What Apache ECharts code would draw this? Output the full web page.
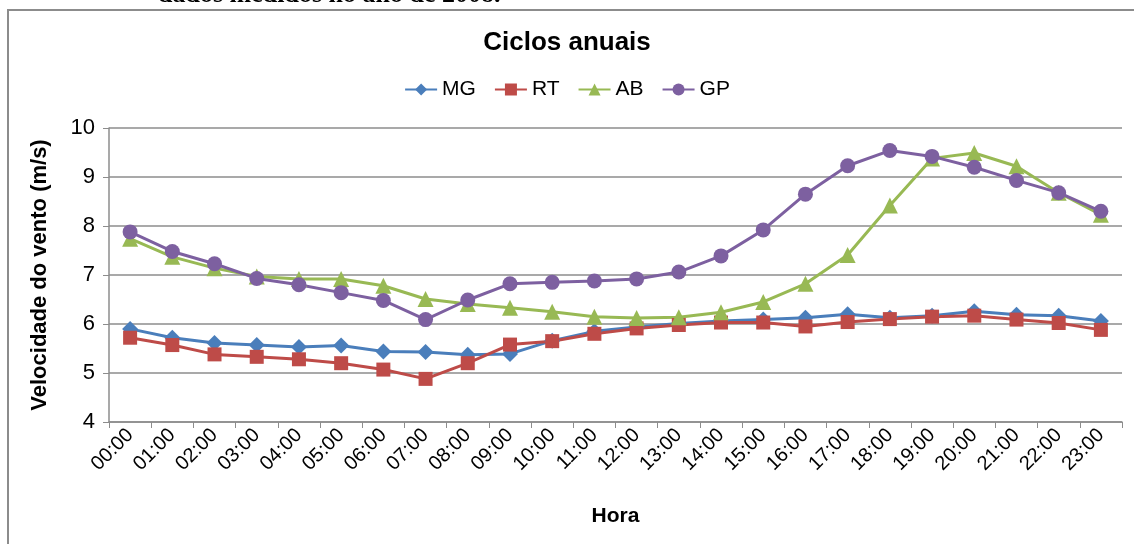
<!DOCTYPE html>
<html>
<head>
<meta charset="utf-8">
<script src="https://cdn.jsdelivr.net/npm/echarts@6/dist/echarts.min.js"></script>
<style>
  html, body { margin: 0; padding: 0; background: #fff; }
  #main { width: 1134px; height: 544px; }
</style>
</head>
<body>
<div id="main"></div>
<script>
// horas do dia
var horas = ['00:00', '01:00', '02:00', '03:00', '04:00', '05:00', '06:00', '07:00',
  '08:00', '09:00', '10:00', '11:00', '12:00', '13:00', '14:00', '15:00',
  '16:00', '17:00', '18:00', '19:00', '20:00', '21:00', '22:00', '23:00']

// velocidade media do vento (m/s) por estacao
var mg = [5.90, 5.72, 5.61, 5.57, 5.53, 5.56, 5.44, 5.43, 5.37, 5.39, 5.66, 5.85,
  5.94, 6.01, 6.06, 6.09, 6.13, 6.20, 6.13, 6.17, 6.26, 6.19, 6.17, 6.06]
var rt = [5.72, 5.57, 5.38, 5.33, 5.28, 5.20, 5.07, 4.88, 5.20, 5.58, 5.65, 5.80,
  5.91, 5.98, 6.03, 6.03, 5.95, 6.04, 6.10, 6.15, 6.17, 6.09, 6.02, 5.88]
var ab = [7.74, 7.37, 7.14, 6.97, 6.92, 6.92, 6.78, 6.51, 6.41, 6.33, 6.25, 6.15,
  6.12, 6.14, 6.24, 6.45, 6.82, 7.41, 8.42, 9.38, 9.49, 9.22, 8.68, 8.23]
var gp = [7.88, 7.48, 7.23, 6.93, 6.80, 6.64, 6.48, 6.09, 6.49, 6.82, 6.85, 6.88,
  6.92, 7.06, 7.39, 7.92, 8.65, 9.23, 9.54, 9.42, 9.20, 8.93, 8.68, 8.30]

var nomes = ['MG', 'RT', 'AB', 'GP']
var yTicks = [4, 10, 1] // min, max, intervalo

var fonte = 'Liberation Sans, Arial, sans-serif'
var myChart = echarts.init(document.getElementById('main'))

function linha(nome, dados, cor, simbolo, tam) {
  return {
    name: nome,
    type: 'line',
    data: dados,
    symbol: simbolo,
    symbolSize: tam,
    lineStyle: { color: cor, width: 3 },
    itemStyle: { color: cor },
    emphasis: { disabled: true }
  }
}

myChart.setOption({
  animation: false,
  backgroundColor: '#fff',
  graphic: [
    // moldura do grafico
    {
      type: 'rect',
      shape: { x: 8, y: 10, width: 1200, height: 600 },
      style: { fill: 'none', stroke: '#8c8c8c', lineWidth: 2 }
    },
    // legenda da figura cortada no topo
    {
      type: 'text',
      left: 158,
      top: -18,
      style: {
        text: 'dados medidos no ano de 2008.',
        font: 'bold 26px "Liberation Serif", "Times New Roman", serif',
        fill: '#000'
      }
    }
  ],
  title: {
    text: 'Ciclos anuais',
    left: 'center',
    top: 25,
    textStyle: { fontFamily: fonte, fontSize: 26, fontWeight: 'bold', color: '#000' }
  },
  legend: {
    data: nomes,
    top: 74,
    left: 'center',
    itemWidth: 32,
    itemHeight: 15,
    itemGap: 18,
    textStyle: { fontFamily: fonte, fontSize: 21, color: '#000' }
  },
  grid: { left: 109, right: 12, top: 128, bottom: 122 },
  xAxis: {
    type: 'category',
    data: horas,
    boundaryGap: true,
    name: 'Hora',
    nameLocation: 'middle',
    nameGap: 84,
    nameTextStyle: { fontFamily: fonte, fontSize: 21, fontWeight: 'bold', color: '#000' },
    axisLine: { lineStyle: { color: '#8c8c8c', width: 1.5 } },
    axisTick: { show: true, length: 6, alignWithLabel: false, lineStyle: { color: '#8c8c8c' } },
    axisLabel: {
      interval: 0,
      rotate: 45,
      margin: 10,
      fontFamily: fonte,
      fontSize: 20,
      color: '#000'
    },
    splitLine: { show: false }
  },
  yAxis: {
    type: 'value',
    min: yTicks[0],
    max: yTicks[1],
    interval: yTicks[2],
    name: 'Velocidade do vento (m/s)',
    nameLocation: 'middle',
    nameGap: 58,
    nameTextStyle: { fontFamily: fonte, fontSize: 22, fontWeight: 'bold', color: '#000' },
    axisLine: { show: true, lineStyle: { color: '#8c8c8c', width: 1.5 } },
    axisTick: { show: true, length: 6, lineStyle: { color: '#8c8c8c' } },
    axisLabel: { margin: 14, fontFamily: fonte, fontSize: 22, color: '#000' },
    splitLine: { show: true, lineStyle: { color: '#8c8c8c', width: 1.5 } }
  },
  series: [
    linha('MG', mg, '#4a7ebb', 'diamond', 16),
    linha('RT', rt, '#be4b48', 'rect', 14),
    linha('AB', ab, '#98b954', 'triangle', 16),
    linha('GP', gp, '#7d60a0', 'circle', 15)
  ]
})
</script>
</body>
</html>
